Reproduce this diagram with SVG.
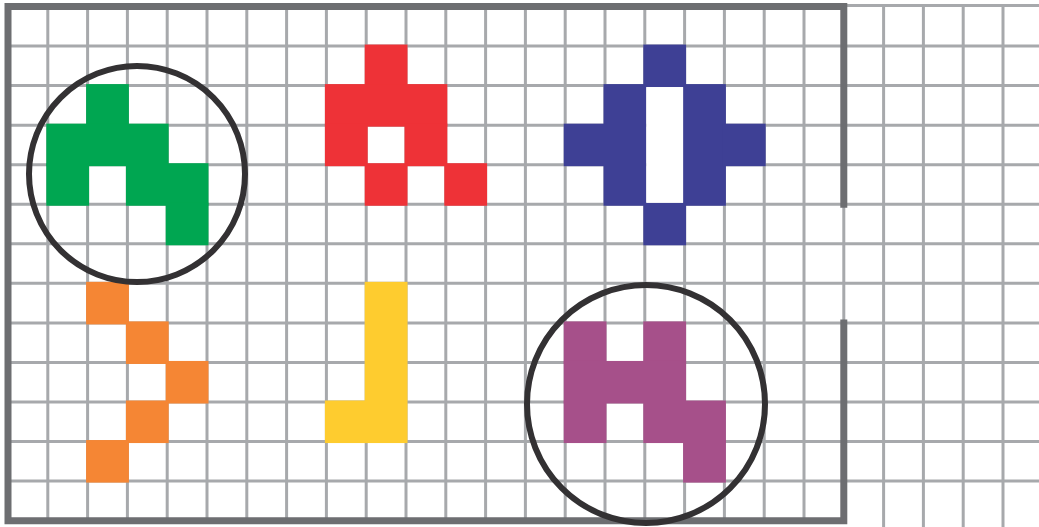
<svg xmlns="http://www.w3.org/2000/svg" width="1039" height="527" viewBox="0 0 1039 527">
<style>
.thin{stroke:#a7a9ac;stroke-width:3;fill:none}
.thick{stroke:#6d6e71;stroke-width:7;fill:none;stroke-linecap:square}
.ring{fill:none;stroke:#333133;stroke-width:6}
.g{fill:#00a651}.r{fill:#ee3237}.b{fill:#3e4095}.o{fill:#f58634}.y{fill:#fecc2f}.p{fill:#a6508a}
</style>
<rect width="1039" height="527" fill="#ffffff"/>
<g id="grid">
<g class="thin">
<path d="M47.8 6.5V521M87.6 6.5V521M127.4 6.5V521M167.2 6.5V521M207 6.5V521M246.8 6.5V521M286.6 6.5V521M326.4 6.5V521M366.2 6.5V521M406 6.5V521M445.8 6.5V521M485.6 6.5V521M525.4 6.5V521M565.2 6.5V521M605 6.5V521M644.8 6.5V521M684.6 6.5V521M724.4 6.5V521M764.2 6.5V521M804 6.5V521M843.8 6.5V521"/>
<path d="M883.6 5V527M923.4 5V527M963.2 5V527M1003 5V527"/>
<path d="M843.8 5.5H1039"/>
<path d="M8 46.05H1039M8 85.6H1039M8 125.15H1039M8 164.7H1039M8 204.25H1039M8 243.8H1039M8 283.35H1039M8 322.9H1039M8 362.45H1039M8 402H1039M8 441.55H1039M8 481.1H1039"/>
</g>
<g class="thick">
<path d="M843.8 204.25V6.5H8V520.65H843.8V322.9"/>
</g>
</g>
<g id="green-shape" class="g">
<rect x="86.1" y="84.1" width="42.8" height="42.55"/>
<rect x="46.3" y="123.65" width="122.4" height="42.55"/>
<rect x="46.3" y="163.2" width="42.8" height="42.55"/>
<rect x="125.9" y="163.2" width="82.6" height="42.55"/>
<rect x="165.7" y="202.75" width="42.8" height="42.55"/>
</g>
<g id="red-shape" class="r">
<rect x="364.7" y="44.55" width="42.8" height="42.55"/>
<rect x="324.9" y="84.1" width="122.4" height="42.55"/>
<rect x="324.9" y="123.65" width="42.8" height="42.55"/>
<rect x="404.5" y="123.65" width="42.8" height="42.55"/>
<rect x="364.7" y="163.2" width="42.8" height="42.55"/>
<rect x="444.3" y="163.2" width="42.8" height="42.55"/>
</g>
<g id="blue-shape">
<g class="b">
<rect x="643.3" y="44.55" width="42.8" height="42.55"/>
<rect x="603.5" y="84.1" width="42.8" height="121.65"/>
<rect x="683.1" y="84.1" width="42.8" height="121.65"/>
<rect x="563.7" y="123.65" width="42.8" height="42.55"/>
<rect x="722.9" y="123.65" width="42.8" height="42.55"/>
<rect x="643.3" y="202.75" width="42.8" height="42.55"/>
</g>
<rect x="646.3" y="87.1" width="36.8" height="115.65" fill="#ffffff"/>
</g>
<g id="orange-shape" class="o">
<rect x="86.1" y="281.85" width="42.8" height="42.55"/>
<rect x="125.9" y="321.4" width="42.8" height="42.55"/>
<rect x="165.7" y="360.95" width="42.8" height="42.55"/>
<rect x="125.9" y="400.5" width="42.8" height="42.55"/>
<rect x="86.1" y="440.05" width="42.8" height="42.55"/>
</g>
<g id="yellow-shape" class="y">
<rect x="364.7" y="281.85" width="42.8" height="161.2"/>
<rect x="324.9" y="400.5" width="42.8" height="42.55"/>
</g>
<g id="purple-shape" class="p">
<rect x="563.7" y="321.4" width="42.8" height="42.55"/>
<rect x="643.3" y="321.4" width="42.8" height="42.55"/>
<rect x="563.7" y="360.95" width="122.4" height="42.55"/>
<rect x="563.7" y="400.5" width="42.8" height="42.55"/>
<rect x="643.3" y="400.5" width="82.6" height="42.55"/>
<rect x="683.1" y="440.05" width="42.8" height="42.55"/>
</g>
<g id="circle-green">
<circle class="ring" cx="137" cy="174" r="108"/>
</g>
<g id="circle-purple">
<circle class="ring" cx="646" cy="404" r="119"/>
</g>
</svg>
